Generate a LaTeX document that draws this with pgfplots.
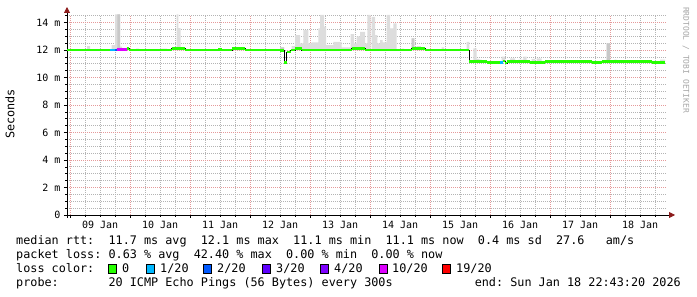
\documentclass[border=0pt]{standalone}
\usepackage{fontspec}
\setmainfont{DejaVu Sans}
\setmonofont{DejaVu Sans Mono}
\usepackage{pgfplots}
\pgfplotsset{compat=1.18}
\usepgfplotslibrary{fillbetween}
\usetikzlibrary{arrows.meta}
\definecolor{smoke}{HTML}{DDDDDD}
\definecolor{smokedark}{HTML}{C8C8C8}
\definecolor{lossA}{HTML}{26FF00}
\definecolor{lossB}{HTML}{00B8FF}
\definecolor{lossC}{HTML}{0059FF}
\definecolor{lossD}{HTML}{5E00FF}
\definecolor{lossE}{HTML}{7E00FF}
\definecolor{lossF}{HTML}{DD00FF}
\definecolor{lossG}{HTML}{FF0000}
\definecolor{mgrid}{HTML}{E59A9A}
\definecolor{ngrid}{HTML}{B4B4B4}
\definecolor{arrowred}{HTML}{8B1A1A}
\newcommand\lf{\fontsize{11.8pt}{14pt}\selectfont\ttfamily}
\newcommand\tf{\fontsize{10pt}{12pt}\selectfont\ttfamily}
\begin{document}
\begin{tikzpicture}[x=1pt,y=1pt]
\begin{axis}[
  at={(67pt,82pt)}, anchor=south west,
  scale only axis, width=600pt, height=200pt,
  xmin=-1.28, xmax=238.72, ymin=0, ymax=14.55,
  axis x line*=bottom, axis y line*=left,
  axis line style={black, line width=0.8pt},
  x axis line style={-{Triangle[length=6pt,width=6pt,color=arrowred]}, shorten >=-8pt, shorten <=-3pt},
  y axis line style={-{Triangle[length=6pt,width=6pt,color=arrowred]}, shorten >=-8pt, shorten <=-3pt},
  xtick={0,24,...,216},
  xticklabels={09 Jan,10 Jan,11 Jan,12 Jan,13 Jan,14 Jan,15 Jan,16 Jan,17 Jan,18 Jan},
  xticklabel style={xshift=30pt, font=\tf},
  minor xtick={6,12,18,30,36,42,54,60,66,78,84,90,102,108,114,126,132,138,150,156,162,174,180,186,198,204,210,222,228,234},
  ytick={0,2,...,14},
  yticklabels={0,2 m,4 m,6 m,8 m,10 m,12 m,14 m},
  yticklabel style={font=\tf},
  minor ytick={0.5,1,1.5,2.5,3,3.5,4.5,5,5.5,6.5,7,7.5,8.5,9,9.5,10.5,11,11.5,12.5,13,13.5,14.5},
  grid=both,
  major grid style={mgrid, line width=0.8pt, dash pattern=on 1pt off 1pt},
  minor grid style={ngrid, line width=0.8pt, dash pattern=on 1pt off 1pt},
  tick align=outside, major tick length=3pt, minor tick length=2pt,
  tick style={black, line width=0.6pt},
]
% smoke upper envelope
\addplot[name path=top, draw=none, const plot mark left] coordinates {
(-1.28,12) (6.72,12.29) (7.92,12) (16.6,12.36) (17.92,14.6) (19.92,12.24) (20.72,12)
(26.32,12.1) (27.52,12) (35.92,12.1) (38.72,12) (42.6,14.6) (43.24,13.6) (44.2,12)
(59.12,12.1) (60.72,12) (67.92,12.2) (69.12,12) (83.92,12.2) (85.52,12)
(88.6,12.29) (89.92,13.09) (91.92,12.48) (93.24,13.45) (95.24,12.48) (96.6,12.56)
(99.24,13.58) (99.92,14.55) (101.52,13.7) (102.32,12.36) (105.24,12.6) (108.6,12.2)
(112.2,13.16) (113.52,12.48) (114.6,13.0) (115.92,13.33) (117.92,12.48) (118.84,14.55)
(120.2,12) (120.6,14.42) (121.92,13.09) (122.84,12.48) (123.92,12.73) (125.0,12.56)
(126.6,14.55) (127.92,13.58) (129.24,13.94) (130.6,12) (132.6,12.1) (133.52,12)
(136.6,12.85) (137.64,12.2) (138.6,12.29) (140.3,12) (148.6,12.2) (149.52,12)
(158.6,12.6) (159.64,11.12) (161.24,12.12) (162.6,11.35) (163.64,11.3) (164.6,11.12)
(172.6,11.52) (173.92,11.12) (175.92,11.4) (177.92,11.2) (179.24,11.3) (181.24,11.52)
(182.6,11.12) (184.6,11.35) (185.92,11.12) (186.6,11.4) (188.6,11.12)
(214.6,12.48) (215.92,11.12) (217.64,11.3) (218.6,11.12) (235.92,11.3) (237.92,11.12)
};
% darker smoke
\addplot[name path=topdark, draw=none, const plot mark left] coordinates {
(-1.28,12) (18.84,14.6) (19.92,12) (83.92,12.2) (85.52,12) (136.6,12.85) (137.64,12)
(159.64,11.12) (214.6,12.48) (215.92,11.12) (237.92,11.12)
};
\addplot[name path=base, draw=none, const plot mark left] coordinates {
(-1.28,12) (159.64,11.12) (237.92,11.12)
};
\addplot[fill=smoke, draw=none] fill between[of=top and base];
\addplot[fill=smokedark, draw=none] fill between[of=topdark and base];
% median rtt
\addplot[black, line width=0.7pt, const plot mark left] coordinates {
(-1.28,12.0) (18.6,12.05) (22.6,12.1) (23.64,12.0) (40.6,12.1) (45.92,12.0)
(59.12,12.05) (60.72,12.0) (64.7,12.1) (69.92,12.0) (83.92,11.95) (85.52,11.1)
(86.6,11.85) (88.2,12.0) (89.92,12.1) (92.6,12.0) (112.6,12.1) (117.92,12.0)
(136.6,12.1) (141.92,12.0) (159.64,11.15) (166.6,11.08) (171.92,11.1) (173.0,11.2)
(173.92,11.05) (174.9,11.15) (183.92,11.08) (189.92,11.15) (208.6,11.08) (212.6,11.15)
(232.6,11.08) (237.92,11.08)
};
\addplot[lossA, line width=2.7pt, jump mark left] coordinates {
(-1.28,12.0) (18.6,12.05) (22.6,12.1) (23.64,12.0) (40.6,12.1) (45.92,12.0)
(59.12,12.05) (60.72,12.0) (64.7,12.1) (69.92,12.0) (83.92,11.95) (85.52,11.1)
(86.6,11.85) (88.2,12.0) (89.92,12.1) (92.6,12.0) (112.6,12.1) (117.92,12.0)
(136.6,12.1) (141.92,12.0) (159.64,11.15) (166.6,11.08) (171.92,11.1) (173.0,11.2)
(173.92,11.05) (174.9,11.15) (183.92,11.08) (189.92,11.15) (208.6,11.08) (212.6,11.15)
(232.6,11.08) (237.92,11.08)
};
\addplot[lossB, line width=2.7pt] coordinates {(15.92,12.0) (17.92,12.0)};
\addplot[lossC, line width=2.7pt] coordinates {(17.92,12.0) (18.6,12.0)};
\addplot[lossF, line width=2.7pt] coordinates {(18.6,12.05) (22.6,12.05)};
\addplot[lossB, line width=2.7pt] coordinates {(171.92,11.1) (173.0,11.1)};
\end{axis}
% axis title and watermark
\node[rotate=90, font=\lf] at (10,183) {Seconds};
\node[rotate=-90, font=\fontsize{8pt}{9pt}\selectfont\ttfamily, text=black!35] at (686,237) {RRDTOOL / TOBI OETIKER};
% legend text
\node[anchor=base west, font=\lf, inner sep=0] at (16,52) {median rtt:\ \ 11.7 ms avg\ \ 12.1 ms max\ \ 11.1 ms min\ \ 11.1 ms now\ \ 0.4 ms sd\ \ 27.6\ \ \ am/s};
\node[anchor=base west, font=\lf, inner sep=0] at (16,38) {packet loss: 0.63 \% avg\ \ 42.40 \% max\ \ 0.00 \% min\ \ 0.00 \% now};
\node[anchor=base west, font=\lf, inner sep=0] at (16,24) {loss color:};
\draw[black, line width=0.8pt, fill=lossA] (108.5,23.5) rectangle (116.5,32.5);
\node[anchor=base west, font=\lf, inner sep=0] at (122,24) {0};
\draw[black, line width=0.8pt, fill=lossB] (146.5,23.5) rectangle (154.5,32.5);
\node[anchor=base west, font=\lf, inner sep=0] at (160,24) {1/20};
\draw[black, line width=0.8pt, fill=lossC] (203.5,23.5) rectangle (211.5,32.5);
\node[anchor=base west, font=\lf, inner sep=0] at (217,24) {2/20};
\draw[black, line width=0.8pt, fill=lossD] (262.5,23.5) rectangle (270.5,32.5);
\node[anchor=base west, font=\lf, inner sep=0] at (276,24) {3/20};
\draw[black, line width=0.8pt, fill=lossE] (320.5,23.5) rectangle (328.5,32.5);
\node[anchor=base west, font=\lf, inner sep=0] at (334,24) {4/20};
\draw[black, line width=0.8pt, fill=lossF] (379.5,23.5) rectangle (387.5,32.5);
\node[anchor=base west, font=\lf, inner sep=0] at (392,24) {10/20};
\draw[black, line width=0.8pt, fill=lossG] (442.5,23.5) rectangle (450.5,32.5);
\node[anchor=base west, font=\lf, inner sep=0] at (456,24) {19/20};
\node[anchor=base west, font=\lf, inner sep=0] at (16,10) {probe:\ \ \ \ \ \ \ 20 ICMP Echo Pings (56 Bytes) every 300s};
\node[anchor=base east, font=\lf, inner sep=0] at (681,10) {end: Sun Jan 18 22:43:20 2026};
\pgfresetboundingbox
\path[use as bounding box] (0,0) rectangle (697,297);
\end{tikzpicture}
\end{document}
